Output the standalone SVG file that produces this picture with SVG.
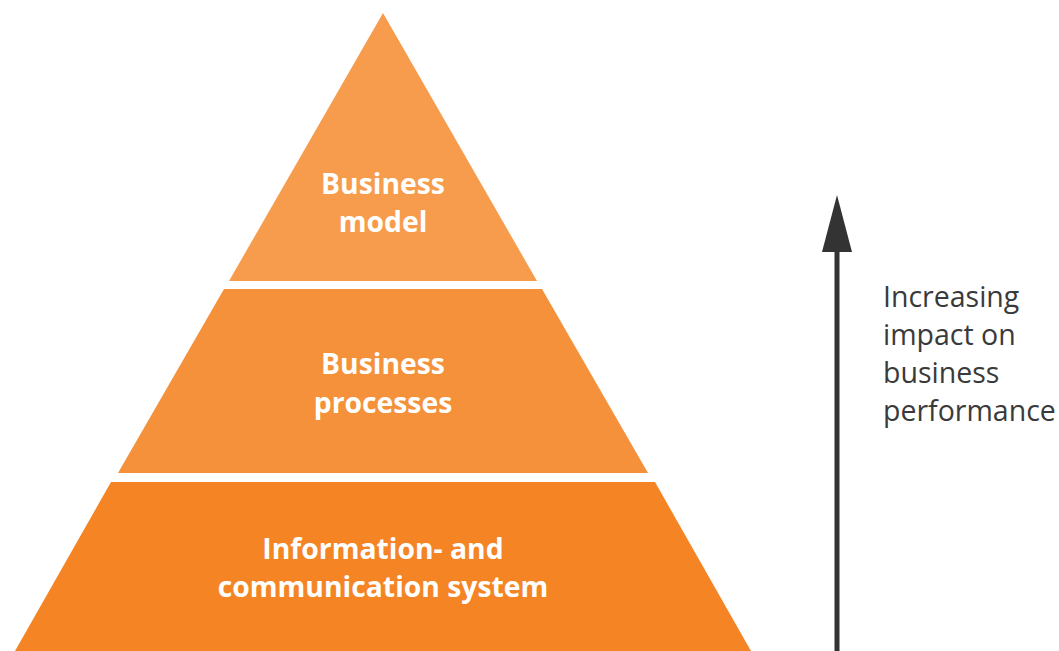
<svg xmlns="http://www.w3.org/2000/svg" width="1059" height="651" viewBox="0 0 1059 651">
<style>
.lbl{font-family:"Open Sans","Noto Sans",sans-serif;font-weight:bold;font-size:28.3px;fill:#fff;text-anchor:middle}
.side{font-family:"Open Sans","Noto Sans",sans-serif;font-size:28.5px;fill:#3a3a3a}
</style>
<rect width="1059" height="651" fill="#fff"/>
<g id="layer-top">
<polygon points="383,13 537,281 229,281" fill="#F79C4C"/>
<text class="lbl" x="383" y="194">Business</text>
<text class="lbl" x="383" y="232">model</text>
</g>
<g id="layer-middle">
<polygon points="224,289 542,289 648,473 118,473" fill="#F5913A"/>
<text class="lbl" x="383" y="374">Business</text>
<text class="lbl" x="383" y="413">processes</text>
</g>
<g id="layer-bottom">
<polygon points="111,482 655,482 751,651 15,651" fill="#F58524"/>
<text class="lbl" x="383" y="559">Information- and</text>
<text class="lbl" x="383" y="597">communication system</text>
</g>
<g id="connectors">
<line x1="837" y1="651" x2="837" y2="250" stroke="#333" stroke-width="5"/>
<polygon points="837,195 852,252 822,252" fill="#333"/>
</g>
<g id="side-label">
<text class="side" x="883" y="307">Increasing</text>
<text class="side" x="883" y="345">impact on</text>
<text class="side" x="883" y="383">business</text>
<text class="side" x="883" y="421">performance</text>
</g>
</svg>
